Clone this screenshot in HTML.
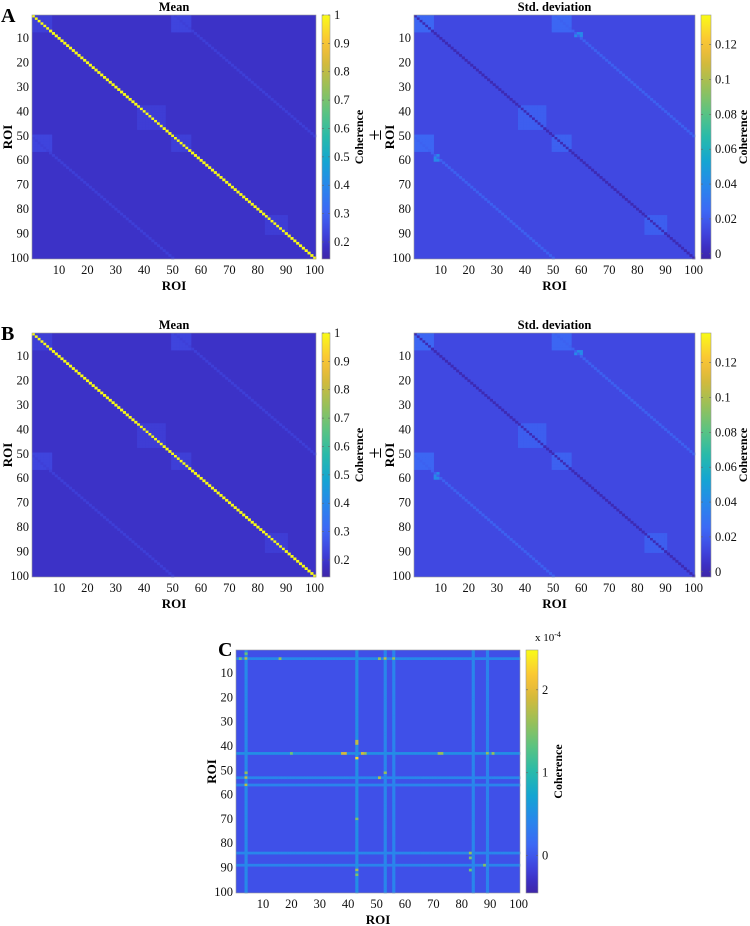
<!DOCTYPE html>
<html><head><meta charset="utf-8">
<style>
html,body{margin:0;padding:0;background:#fff;}
svg{display:block;font-family:"Liberation Serif",serif;}
</style></head>
<body>
<svg id="fig" width="750" height="926" viewBox="0 0 750 926" xmlns="http://www.w3.org/2000/svg">
<defs id="defs"></defs>
</svg>
<script>
// ---- data ----
const roiTicks = [10,20,30,40,50,60,70,80,90,100];
const meanTicks = [0.2,0.3,0.4,0.5,0.6,0.7,0.8,0.9,1];
const meanTickLabels = ["0.2","0.3","0.4","0.5","0.6","0.7","0.8","0.9","1"];
const stdTicks = [0,0.02,0.04,0.06,0.08,0.1,0.12];
const stdTickLabels = ["0","0.02","0.04","0.06","0.08","0.1","0.12"];
const cTicks = [0,1,2];
const cTickLabels = ["0","1","2"];
const meanBase = 0.19;
const meanDiag = 1.0;
const meanBlocks = [[1,50,7,56,0.23],[50,1,56,7,0.23],[38,38,47,47,0.215],[50,50,56,56,0.22],[83,83,90,90,0.215],[1,1,7,7,0.22]];
const meanOffDiag = [[50,0.22],[-50,0.22]];
const stdBase = 0.013;
const stdDiag = 0.0;
const stdBlocks = [[1,50,7,56,0.024],[50,1,56,7,0.024],[38,38,47,47,0.021],[50,50,56,56,0.022],[83,83,90,90,0.021],[1,1,7,7,0.024],[2,52,2,52,0.13],[52,2,52,2,0.13],[58,8,60,9,0.04],[8,58,9,60,0.04]];
const stdOffDiag = [[50,0.022],[-50,0.022]];
const cBase = -0.05;
const cLines = [[4,0.45],[43,0.5],[53,0.42],[56,0.4],[84,0.42],[89,0.4]];
const cHot = [[43,38,1.9],[43,39,1.9],[43,45,1.9],[43,46,1.6],[38,43,1.8],[39,43,1.8],[45,43,2.3],[4,4,1.8],[4,53,1.8],[4,51,1.6],[53,4,1.8],[51,4,1.6],[56,4,1.8],[4,56,1.6],[53,51,1.7],[51,53,1.6],[4,16,1.6],[43,72,1.6],[43,73,1.6],[43,89,1.6],[43,91,1.6],[43,20,1.4],[84,83,1.6],[86,83,1.5],[89,88,1.5],[91,83,1.4],[70,43,1.5],[91,43,1.7],[93,43,1.5],[4,2,1.4],[2,4,1.4]];

// ---- helpers ----
const NS="http://www.w3.org/2000/svg";
const svg=document.getElementById('fig');
const defs=document.getElementById('defs');
const stops=[[0,[62,38,168]],[0.06,[60,50,200]],[0.12,[64,74,228]],[0.2,[60,105,245]],[0.3,[40,135,235]],[0.4,[20,165,210]],[0.5,[40,186,170]],[0.6,[90,195,130]],[0.7,[150,192,90]],[0.8,[210,186,60]],[0.88,[250,190,55]],[0.95,[250,225,40]],[1,[249,251,20]]];
function parula(t){t=Math.max(0,Math.min(1,t));for(let i=1;i<stops.length;i++){if(t<=stops[i][0]){const a=stops[i-1],b=stops[i];const f=(t-a[0])/(b[0]-a[0]);const c=a[1].map((v,k)=>Math.round(v+(b[1][k]-v)*f));return `rgb(${c[0]},${c[1]},${c[2]})`;}}return 'rgb(249,251,20)';}
function mk(tag,attrs,parent){const e=document.createElementNS(NS,tag);for(const k in attrs)e.setAttribute(k,attrs[k]);(parent||svg).appendChild(e);return e;}
function txt(x,y,s,attrs,parent){const e=mk('text',Object.assign({x:x,y:y},attrs),parent);e.textContent=s;return e;}

function buildMatrix(base,diag,blocks,offd){
  const m=[];for(let r=1;r<=100;r++){m[r]=[];for(let c=1;c<=100;c++)m[r][c]=base;}
  blocks.forEach(b=>{for(let r=b[0];r<=b[2];r++)for(let c=b[1];c<=b[3];c++)m[r][c]=Math.max(m[r][c],b[4]);});
  offd.forEach(o=>{for(let r=1;r<=100;r++){const c=r+o[0];if(c>=1&&c<=100)m[r][c]=o[1];}});
  if(diag!==null)for(let i=1;i<=100;i++)m[i][i]=diag;
  return m;
}

function panel(name,P,m,vmin,vmax,ticks,labels,title,letter,cbW,expo,cbOff){
  const g=mk('g',{},svg);
  
  
  const sx=v=>P.x+(v-0.5)/100*P.w, sy=v=>P.y+(v-0.5)/100*P.h;
  const cw=P.w/100,ch=P.h/100;
  const norm=v=>(v-vmin)/(vmax-vmin);
  const hm=mk('g',{},g);
  
  
  const base=m[100][1];
  mk('rect',{x:P.x,y:P.y,width:P.w,height:P.h,fill:parula(norm(base))},hm);
  for(let r=1;r<=100;r++)for(let c=1;c<=100;c++){if(m[r][c]!==base){const cell=mk('rect',{x:(sx(c)-cw/2).toFixed(2),y:(sy(r)-ch/2).toFixed(2),width:(cw+0.3).toFixed(2),height:(ch+0.3).toFixed(2),fill:parula(norm(m[r][c]))},hm);
    
    }}
  mk('rect',{x:P.x,y:P.y,width:P.w,height:P.h,fill:'none',stroke:'#999','stroke-width':0.6},g);
  roiTicks.forEach(v=>{
    const t1=txt(sx(v),P.y+P.h+15,String(v),{'font-size':12.5,'text-anchor':'middle',fill:'#111'},g);
    
    const t2=txt(P.x-3,sy(v)+4,String(v),{'font-size':12.5,'text-anchor':'end',fill:'#111'},g);
    
  });
  const xl=txt(P.x+P.w/2,P.y+P.h+31,'ROI',{'font-size':13,'font-weight':'bold','text-anchor':'middle'},g);
  
  const yl=txt(0,0,'ROI',{'font-size':13,'font-weight':'bold','text-anchor':'middle',transform:`translate(${P.x-20},${P.y+P.h/2}) rotate(-90)`},g);
  
  if(title){const tt=txt(P.x+P.w/2,P.y-4,title,{'font-size':12.5,'font-weight':'bold','text-anchor':'middle'},g);
    }
  if(letter){const lt=txt(letter[0],letter[1],letter[2],{'font-size':20,'font-weight':'bold'},g);
    }
  const id='grad-'+name;
  const lg=mk('linearGradient',{id:id,x1:0,y1:1,x2:0,y2:0},defs);
  for(let i=0;i<=20;i++)mk('stop',{offset:i/20,'stop-color':parula(i/20)},lg);
  const cb=mk('g',{},g);
  
  
  const cx=P.x+P.w+6;
  mk('rect',{x:cx,y:P.y,width:cbW,height:P.h,fill:`url(#${id})`,stroke:'#999','stroke-width':0.6},cb);
  const cy=v=>P.y+P.h-(v-vmin)/(vmax-vmin)*P.h;
  ticks.forEach((v,i)=>{
    mk('line',{x1:cx,x2:cx+2,y1:cy(v),y2:cy(v),stroke:'#666','stroke-width':0.6},cb);
    mk('line',{x1:cx+cbW-2,x2:cx+cbW,y1:cy(v),y2:cy(v),stroke:'#666','stroke-width':0.6},cb);
    const tl=txt(cx+cbW+4,cy(v)+4,labels[i],{'font-size':12.5,fill:'#111'},cb);
    
  });
  const cl=txt(0,0,'Coherence',{'font-size':12,'font-weight':'bold','text-anchor':'middle',transform:`translate(${cx+cbW+cbOff},${P.y+P.h/2}) rotate(-90)`},cb);
  
  if(expo){const ex=txt(cx+9,P.y-9,'x 10',{'font-size':11},cb);
    const sp=mk('tspan',{dy:-4,'font-size':8},ex);sp.textContent='-4';
    }
}

const meanM=buildMatrix(meanBase,meanDiag,meanBlocks,meanOffDiag);
const stdM=buildMatrix(stdBase,stdDiag,stdBlocks,stdOffDiag);
const cM=buildMatrix(cBase,null,[],[]);
cLines.forEach(l=>{for(let i=1;i<=100;i++){cM[l[0]][i]=Math.max(cM[l[0]][i],l[1]);cM[i][l[0]]=Math.max(cM[i][l[0]],l[1]);}});
cHot.forEach(h=>{cM[h[0]][h[1]]=h[2];});

panel('panel-a-mean',{x:32,y:15,w:284,h:244},meanM,0.14,1,meanTicks,meanTickLabels,'Mean',[1,22,'A'],8,false,33);
panel('panel-a-std',{x:414,y:15,w:281,h:244},stdM,-0.003,0.137,stdTicks,stdTickLabels,'Std. deviation',null,10,false,36);
panel('panel-b-mean',{x:32,y:333,w:284,h:244},meanM,0.14,1,meanTicks,meanTickLabels,'Mean',[1,340,'B'],8,false,33);
panel('panel-b-std',{x:414,y:333,w:281,h:244},stdM,-0.003,0.137,stdTicks,stdTickLabels,'Std. deviation',null,10,false,36);
panel('panel-c-difference',{x:236,y:650,w:284,h:243},cM,-0.45,2.48,cTicks,cTickLabels,null,[218,656,'C'],12,true,24);

[135,453].forEach(y=>{
  const pm=txt(0,0,'±',{'font-size':20,'text-anchor':'middle',transform:`translate(381,${y}) rotate(-90)`});
  
  
});
</script>
</body></html>
